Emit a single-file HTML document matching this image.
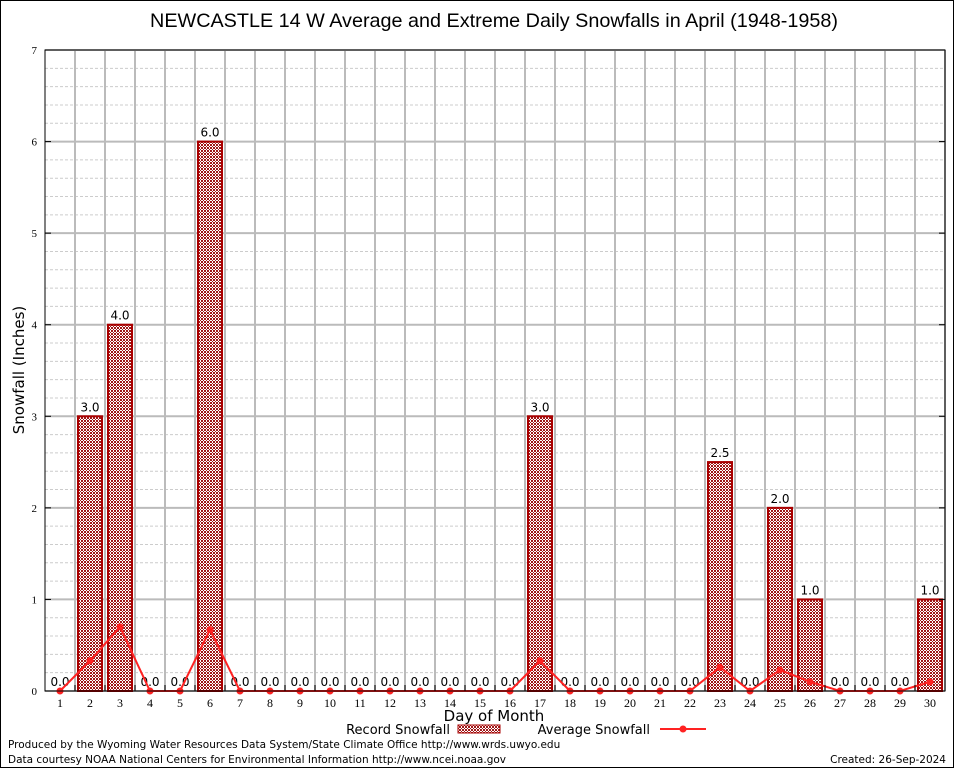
<!DOCTYPE html>
<html><head><meta charset="utf-8"><style>
body{margin:0;background:#fff;}
svg{display:block;font-family:"DejaVu Sans","Liberation Sans",sans-serif;}
</style></head><body>
<svg id="chart" width="954" height="768" viewBox="0 0 954 768">
<defs>
<pattern id="chk" width="3" height="3" patternUnits="userSpaceOnUse">
<rect width="3" height="3" fill="#fff"/>
<rect width="2" height="2" fill="#a01818"/>
<rect x="2" y="2" width="1" height="1" fill="#a01818"/>
</pattern>
</defs>
<rect x="0.5" y="0.5" width="953" height="767" fill="#fff" stroke="#000"/>
<text x="494" y="27" font-size="19.8" text-anchor="middle" font-family="Liberation Sans, sans-serif">NEWCASTLE 14 W Average and Extreme Daily Snowfalls in April (1948-1958)</text>
<g id="grid"></g>
<g id="bars"></g>
<g id="avg"></g>
<rect x="45" y="50" width="900" height="641" fill="none" stroke="#000"/>
<g id="axes"></g>
<text transform="translate(24,370) rotate(-90)" font-size="15" text-anchor="middle">Snowfall (Inches)</text>
<text x="494" y="721" font-size="15" text-anchor="middle">Day of Month</text>
<g>
<text x="450" y="734" font-size="13" text-anchor="end">Record Snowfall</text>
<rect x="458" y="725" width="42" height="8" fill="url(#chk)" stroke="#a00"/>
</g>
<g>
<text x="650" y="734" font-size="13" text-anchor="end">Average Snowfall</text>
<line x1="660" y1="729" x2="706" y2="729" stroke="#f22" stroke-width="2"/>
<circle cx="683" cy="729" r="3.5" fill="#f22"/>
</g>
<text x="8" y="748" font-size="10.5">Produced by the Wyoming Water Resources Data System/State Climate Office http://www.wrds.uwyo.edu</text>
<text x="8" y="763" font-size="10.5">Data courtesy NOAA National Centers for Environmental Information http://www.ncei.noaa.gov</text>
<text x="946" y="763" font-size="10.5" text-anchor="end">Created:  26-Sep-2024</text>
</svg>
<script>
const days=[1,2,3,4,5,6,7,8,9,10,11,12,13,14,15,16,17,18,19,20,21,22,23,24,25,26,27,28,29,30];
const recordSnow=[0,3,4,0,0,6,0,0,0,0,0,0,0,0,0,0,3,0,0,0,0,0,2.5,0,2,1,0,0,0,1];
const avgSnow=[0,0.33,0.7,0,0,0.67,0,0,0,0,0,0,0,0,0,0,0.33,0,0,0,0,0,0.26,0,0.23,0.1,0,0,0,0.1];
const yTicks=[0,1,2,3,4,5,6,7];
const NS="http://www.w3.org/2000/svg";
const X=d=>60+(d-1)*30;
const Y=v=>691-v*(641/7);
function mk(tag,attrs,parent){const e=document.createElementNS(NS,tag);for(const k in attrs)e.setAttribute(k,attrs[k]);parent.appendChild(e);return e;}
const grid=document.getElementById('grid'),axes=document.getElementById('axes'),bars=document.getElementById('bars'),avg=document.getElementById('avg');
for(let v=0;v<7;v+=0.2){const vv=Math.round(v*10)/10;if(Math.abs(vv-Math.round(vv))<1e-6)continue;
const l=mk('line',{x1:45,x2:945,y1:Y(vv),y2:Y(vv),stroke:'#ccc','stroke-dasharray':'3,2'},grid);

}
yTicks.forEach(t=>{
const l=mk('line',{x1:45,x2:945,y1:Y(t),y2:Y(t),stroke:'#bbb','stroke-width':2},grid);


const tx=mk('text',{x:37,y:Y(t)+4,'font-size':11,'text-anchor':'end','font-family':'Liberation Serif, serif'},axes);tx.textContent=t;


mk('line',{x1:45,x2:51,y1:Y(t),y2:Y(t),stroke:'#000'},axes);
mk('line',{x1:939,x2:945,y1:Y(t),y2:Y(t),stroke:'#000'},axes);
});
days.forEach((d,i)=>{
const vl=mk('line',{x1:X(d)+15,x2:X(d)+15,y1:50,y2:691,stroke:'#bbb','stroke-width':2},grid);


mk('line',{x1:X(d)+15,x2:X(d)+15,y1:685,y2:691,stroke:'#000'},axes);
const tx=mk('text',{x:X(d),y:707,'font-size':12,'text-anchor':'middle','font-family':'Liberation Serif, serif'},axes);tx.textContent=d;


const v=recordSnow[i];
if(v>0){const b=mk('rect',{x:X(d)-12,y:Y(v),width:24,height:Y(0)-Y(v),fill:'url(#chk)',stroke:'#a00','stroke-width':2},bars);

}
const lb=mk('text',{x:X(d),y:Y(v)-5,'font-size':12,'text-anchor':'middle'},bars);lb.textContent=v.toFixed(1);


});
const pl=mk('polyline',{points:days.map((d,i)=>X(d)+','+Y(avgSnow[i])).join(' '),fill:'none',stroke:'#f22','stroke-width':2},avg);


days.forEach((d,i)=>{const c=mk('circle',{cx:X(d),cy:Y(avgSnow[i]),r:3.5,fill:'#f22'},avg);

});
</script>
</body></html>
